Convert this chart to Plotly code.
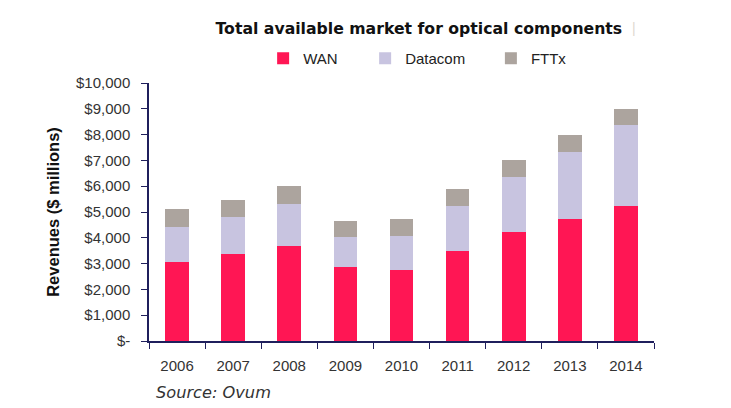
import plotly.graph_objects as go

years = ["2006", "2007", "2008", "2009", "2010", "2011", "2012", "2013", "2014"]
wan = [3050, 3360, 3690, 2860, 2750, 3500, 4240, 4730, 5230]
datacom = [1380, 1460, 1620, 1170, 1330, 1720, 2120, 2610, 3150]
fttx = [690, 650, 700, 630, 640, 680, 640, 640, 600]

y_tickvals = [0, 1000, 2000, 3000, 4000, 5000, 6000, 7000, 8000, 9000, 10000]
y_ticktext = ["$-", "$1,000", "$2,000", "$3,000", "$4,000", "$5,000",
              "$6,000", "$7,000", "$8,000", "$9,000", "$10,000"]

FONT = "Liberation Sans, Arial, sans-serif"
AXIS = "#1f1f5c"

fig = go.Figure()
fig.add_trace(go.Bar(x=years, y=wan, name="WAN", marker_color="#ff1654",
                     marker_line_width=0, legend="legend", showlegend=True))
fig.add_trace(go.Bar(x=years, y=datacom, name="Datacom", marker_color="#c8c4e0",
                     marker_line_width=0, legend="legend2", showlegend=True))
fig.add_trace(go.Bar(x=years, y=fttx, name="FTTx", marker_color="#aca49e",
                     marker_line_width=0, legend="legend3", showlegend=True))

leg_common = dict(orientation="h", yanchor="middle", xanchor="left", y=1.095,
                  font=dict(family=FONT, size=15, color="#222"),
                  bgcolor="rgba(0,0,0,0)", itemwidth=30, tracegroupgap=0)

fig.update_layout(
    width=731, height=408,
    margin=dict(l=149, r=77, t=83, b=67),
    paper_bgcolor="white", plot_bgcolor="white",
    barmode="stack", bargap=0.58, showlegend=True,
    font=dict(family=FONT, size=14, color="#333"),
    title=dict(text="<b>Total available market for optical components</b>",
               x=0.573, xanchor="center", y=0.93, yanchor="middle",
               font=dict(family="DejaVu Sans, sans-serif", size=15.7, color="#111")),
    legend=dict(x=0.226, **leg_common),
    legend2=dict(x=0.428, **leg_common),
    legend3=dict(x=0.677, **leg_common),
    xaxis=dict(type="category", showline=True, linecolor=AXIS, linewidth=1.5,
               ticks="outside", tickson="boundaries", ticklen=6, tickcolor=AXIS,
               ticklabelstandoff=10,
               tickfont=dict(family=FONT, size=15, color="#333"),
               showgrid=False, zeroline=False),
    yaxis=dict(range=[0, 10000], tickvals=y_tickvals, ticktext=y_ticktext,
               showline=True, linecolor=AXIS, linewidth=1.5,
               ticks="outside", ticklen=6, tickcolor=AXIS,
               ticklabelstandoff=8,
               tickfont=dict(family=FONT, size=15, color="#333"),
               showgrid=False, zeroline=False,
               title=dict(text="<b>Revenues ($ millions)</b>", standoff=12,
                          font=dict(family=FONT, size=16.5, color="#111"))),
    annotations=[
        dict(text="<i>Source: Ovum</i>", xref="paper", yref="paper",
             x=0.01, y=-0.2, xanchor="left", yanchor="middle", showarrow=False,
             font=dict(family="DejaVu Sans, sans-serif", size=16.2, color="#333")),
        dict(text="|", xref="paper", yref="paper", x=0.953, y=1.215,
             xanchor="left", yanchor="middle", showarrow=False,
             font=dict(family=FONT, size=14, color="#e0d8d0")),
    ],
)

fig.write_html("out.html")
